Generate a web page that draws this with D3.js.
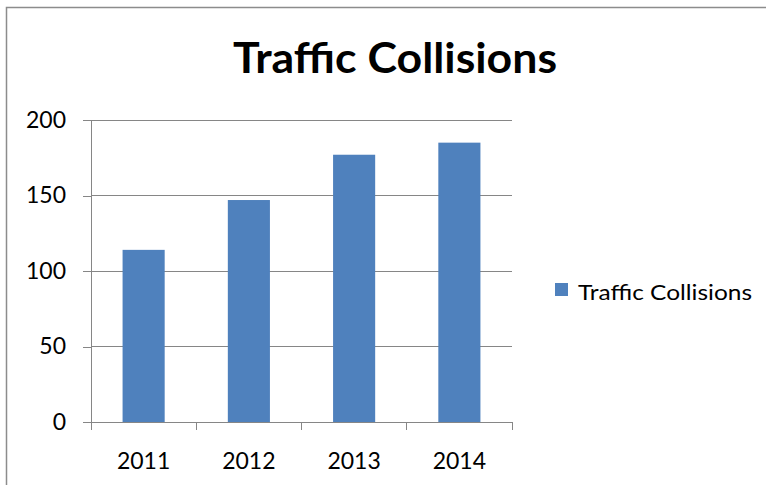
<!DOCTYPE html>
<meta charset="utf-8">
<style>
  body { margin: 0; background: #fff; overflow: hidden; }
  .axis path, .axis line { stroke: #868686; shape-rendering: crispEdges; }
  .axis text { fill: #000; font-family: Lato, "Open Sans", sans-serif; font-size: 23px; }
  .grid line { stroke: #868686; shape-rendering: crispEdges; }
  .title { font-family: Lato, sans-serif; font-weight: bold; font-size: 42px; }
  .legend text { font-family: Lato, sans-serif; font-size: 22px; }
</style>
<body>
<script src="https://cdn.jsdelivr.net/npm/d3@7"></script>
<script>
var years = ["2011", "2012", "2013", "2014"];
var collisions = [114, 147, 177, 185];
var yTicks = [0, 50, 100, 150, 200];
var seriesName = "Traffic Collisions";

var W = 766, H = 485;
var plot = {left: 91, right: 512, top: 120, bottom: 422};

var svg = d3.select("body").append("svg")
    .attr("width", W)
    .attr("height", H)
    .style("display", "block");

// chart border (only top and left edges are in view)
svg.append("path")
    .attr("d", "M6.5," + H + "V7.5H" + W)
    .attr("fill", "none")
    .attr("stroke", "#8c8c8c")
    .attr("stroke-width", 1.5);

var x = d3.scaleBand()
    .domain(years)
    .range([plot.left, plot.right])
    .paddingInner(0.6)
    .paddingOuter(0.3);

var y = d3.scaleLinear()
    .domain([0, 200])
    .range([plot.bottom, plot.top]);

// gridlines
svg.append("g")
    .attr("class", "grid")
    .selectAll("line")
    .data(yTicks.slice(1))
    .enter().append("line")
    .attr("x1", plot.left).attr("x2", plot.right)
    .attr("y1", function(d) { return y(d); })
    .attr("y2", function(d) { return y(d); });

// bars
svg.selectAll("rect.bar")
    .data(years)
    .enter().append("rect")
    .attr("class", "bar")
    .attr("x", function(d) { return x(d); })
    .attr("width", x.bandwidth())
    .attr("y", function(d, i) { return y(collisions[i]); })
    .attr("height", function(d, i) { return plot.bottom - y(collisions[i]); })
    .attr("fill", "#4f81bd");

// y axis
svg.append("g")
    .attr("class", "axis")
    .attr("transform", "translate(" + plot.left + ",0)")
    .call(d3.axisLeft(y).tickValues(yTicks).tickSize(8).tickSizeOuter(0).tickPadding(17));

// x axis, ticks sit on the category boundaries
var xg = svg.append("g")
    .attr("class", "axis")
    .attr("transform", "translate(0," + plot.bottom + ")");
xg.append("line")
    .attr("x1", plot.left).attr("x2", plot.right);
var bounds = d3.range(years.length + 1).map(function(i) {
  return plot.left + i * (plot.right - plot.left) / years.length;
});
xg.selectAll("line.tk")
    .data(bounds)
    .enter().append("line")
    .attr("class", "tk")
    .attr("x1", function(d) { return d; }).attr("x2", function(d) { return d; })
    .attr("y1", 0).attr("y2", 8);
xg.selectAll("text")
    .data(years)
    .enter().append("text")
    .attr("x", function(d) { return x(d) + x.bandwidth() / 2; })
    .attr("y", 47)
    .attr("text-anchor", "middle")
    .text(function(d) { return d; });

// title
svg.append("text")
    .attr("class", "title")
    .attr("x", 395)
    .attr("y", 73)
    .attr("text-anchor", "middle")
    .attr("textLength", 324)
    .attr("lengthAdjust", "spacingAndGlyphs")
    .text(seriesName);

// legend
var legend = svg.append("g").attr("class", "legend");
legend.append("rect")
    .attr("x", 555).attr("y", 283)
    .attr("width", 13).attr("height", 13)
    .attr("fill", "#4f81bd");
legend.append("text")
    .attr("x", 578).attr("y", 300)
    .attr("textLength", 174)
    .attr("lengthAdjust", "spacingAndGlyphs")
    .text(seriesName);
</script>
